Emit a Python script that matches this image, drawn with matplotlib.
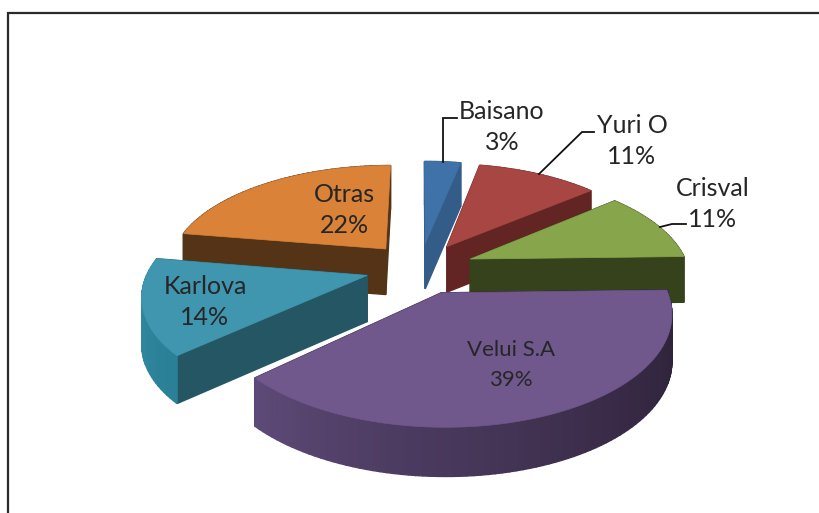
import numpy as np
import matplotlib
matplotlib.use("Agg")
import matplotlib.pyplot as plt
from matplotlib.colors import to_rgb
from matplotlib.patches import Polygon

# --- data ---
names = ["Baisano", "Yuri O", "Crisval", "Velui S.A", "Karlova", "Otras"]
values = [3.2, 10.7, 10.7, 38.6, 14.4, 22.4]

# --- style ---
top_colors = ["#3F72A8", "#A84643", "#87A54A", "#70578C", "#3F96AE", "#DA8238"]
radial_colors = ["#335C88", "#622524", "#36421C", "#2D2138", "#255663", "#553317"]
arc_start_colors = ["#335C88", "#622524", "#36421C", "#2D2138", "#2A8096", "#553317"]
arc_end_colors = ["#335C88", "#622524", "#36421C", "#5E4A78", "#3C93AB", "#553317"]
draw_order = [0, 1, 5, 2, 4, 3]
label_xy = {"Baisano": (502, 127), "Yuri O": (632, 141), "Crisval": (713, 204),
            "Velui S.A": (511, 365), "Karlova": (205, 302), "Otras": (344, 210)}
label_size = {"Velui S.A": 16}
leaders = {"Baisano": ((457, 118), (443, 118), (443, 162)),
           "Yuri O": ((594, 132), (582, 132), (539, 174)),
           "Crisval": ((686, 224), (672, 224), (660, 227))}
CX, CY, R, KR, P, DEPTH, EXPL = 420, 268, 218, 103, 0.165, 46, 0.25

fig = plt.figure(figsize=(8.19, 5.13), dpi=100)
ax = fig.add_axes([0, 0, 1, 1])
ax.set_xlim(0, 819)
ax.set_ylim(513, 0)
ax.axis("off")


def project(u, v, z=0.0):
    s = 1 / (1 - P * v)
    return CX + s * u * R, CY + s * v * KR + z * DEPTH * s ** 0.3


def mix(a, b, t):
    a, b = np.array(to_rgb(a)), np.array(to_rgb(b))
    return tuple(a + (b - a) * t)


edges = np.concatenate([[0], np.cumsum(values)]) / np.sum(values) * 2 * np.pi


def draw_slice(i):
    a0, a1 = edges[i], edges[i + 1]
    mid = (a0 + a1) / 2
    ou, ov = EXPL * np.sin(mid), -EXPL * np.cos(mid)
    th = np.linspace(a0, a1, max(int(np.degrees(a1 - a0) / 1.5), 4))
    us, vs = ou + np.sin(th), ov - np.cos(th)
    faces = []
    for j in range(len(th) - 1):
        t = (j / max(len(th) - 2, 1)) ** 1.4
        q = [project(us[j], vs[j]), project(us[j + 1], vs[j + 1]),
             project(us[j + 1], vs[j + 1], 1), project(us[j], vs[j], 1)]
        faces.append(((vs[j] + vs[j + 1]) / 2, q, mix(arc_start_colors[i], arc_end_colors[i], t)))
    for k in (0, -1):
        q = [project(ou, ov), project(us[k], vs[k]), project(us[k], vs[k], 1), project(ou, ov, 1)]
        faces.append(((ov + vs[k]) / 2, q, radial_colors[i]))
    for _, q, c in sorted(faces, key=lambda f: f[0]):
        ax.add_patch(Polygon(q, closed=True, fc=c, ec=c, lw=1.0, zorder=2 + draw_order.index(i)))
    top = [project(ou, ov)] + [project(a, b) for a, b in zip(us, vs)]
    ax.add_patch(Polygon(top, closed=True, fc=top_colors[i], ec=top_colors[i], lw=0.5,
                         zorder=2.5 + draw_order.index(i)))


for i in draw_order:
    draw_slice(i)

for name, pts in leaders.items():
    xs, ys = zip(*pts)
    ax.plot(xs, ys, color="#111111", lw=1.3, zorder=20, solid_joinstyle="miter")

for name, v in zip(names, values):
    x, y = label_xy[name]
    size = label_size.get(name, 18)
    ax.text(x, y, f"{name}\n{round(v)}%", ha="center", va="center", fontsize=size, family="Lato",
            color="#262626", linespacing=1.45 * 18 / size, zorder=30)

ax.plot([7.5, 7.5, 819], [513, 13, 13], color="#2a2a2a", lw=1.6, solid_joinstyle="miter", zorder=1)
fig.savefig("out.png", dpi=100, facecolor="white")
